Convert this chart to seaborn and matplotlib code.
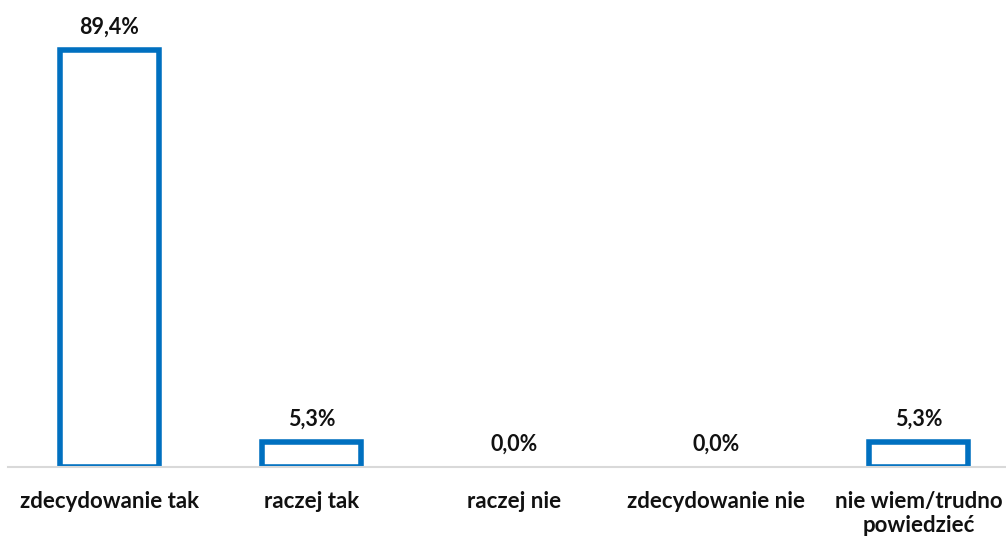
"""
Survey answer distribution - bar chart with outlined bars
"""

import matplotlib
matplotlib.use("Agg")
import matplotlib.pyplot as plt
import seaborn as sns
import pandas as pd

categories = ["zdecydowanie tak", "raczej tak", "raczej nie",
              "zdecydowanie nie", "nie wiem/trudno\npowiedzieć"]
values = [89.4, 5.3, 0.0, 0.0, 5.3]

BLUE = "#0070C0"
GRID = "#D9D9D9"
TEXT = "#111111"

sns.set_style("white")
plt.rcParams['font.family'] = ['Lato', 'DejaVu Sans']

df = pd.DataFrame({"answer": categories, "share": values})

fig = plt.figure(figsize=(10.06, 5.38), dpi=100)
# plot area runs a bit past the right edge, as in the original
ax = fig.add_axes([8 / 1006, 71 / 538, 1012 / 1006, 466 / 538])

sns.barplot(data=df, x="answer", y="share", color="white",
            edgecolor=BLUE, linewidth=4.0, width=0.49,
            saturation=1, ax=ax)

# hide outline of empty bars
for patch, v in zip(ax.patches, values):
    if v == 0:
        patch.set_linewidth(0)

for i, v in enumerate(values):
    ax.annotate(f"{v:.1f}%".replace(".", ","), (i, v),
                xytext=(0, 9), textcoords="offset points",
                ha="center", va="bottom", fontsize=15.5,
                fontweight="bold", color=TEXT)

ax.set_ylim(0, 100)
ax.set_xlim(-0.5, 4.5)
ax.set_xlabel("")
ax.set_ylabel("")
ax.set_yticks([])
ax.tick_params(axis="x", length=0, pad=17)
for lbl in ax.get_xticklabels():
    lbl.set_fontsize(16)
    lbl.set_fontweight("bold")
    lbl.set_color(TEXT)
    lbl.set_linespacing(1.2)

for side in ["top", "left", "right"]:
    ax.spines[side].set_visible(False)
ax.spines["bottom"].set_color(GRID)
ax.spines["bottom"].set_linewidth(1.5)
ax.spines["bottom"].set_zorder(5)

fig.savefig("out.png", dpi=100)
